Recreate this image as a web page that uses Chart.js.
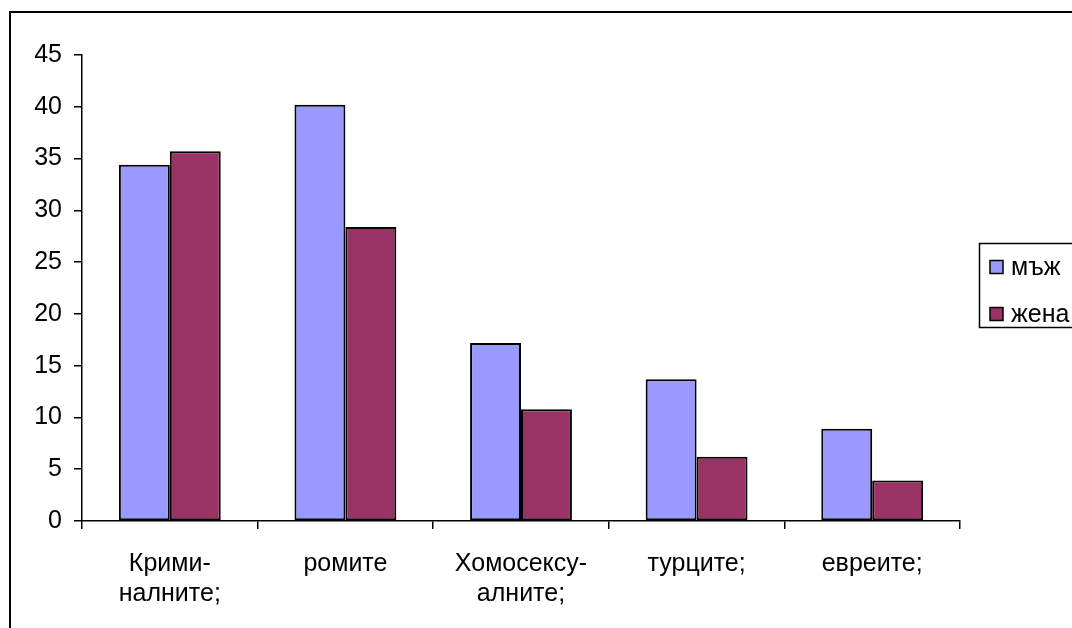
<!DOCTYPE html>
<html>
<head>
<meta charset="utf-8">
<script src="https://cdn.jsdelivr.net/npm/chart.js@4/dist/chart.umd.min.js"></script>
<style>
html,body{margin:0;padding:0;background:#fff;}
#wrap{width:1072px;height:628px;position:relative;}
</style>
</head>
<body>
<div id="wrap"><canvas id="c" width="1072" height="628"></canvas></div>
<script>
const categories = [["Крими-", "налните;"], "ромите", ["Хомосексу-", "алните;"], "турците;", "евреите;"];
const seriesNames = ["мъж", "жена"];
const menValues = [34.4, 40.2, 17.2, 13.7, 8.9];
const womenValues = [35.7, 28.4, 10.8, 6.2, 3.9];
const yTicks = [0, 5, 10, 15, 20, 25, 30, 35, 40, 45];

const FONT = "'Liberation Sans', Arial, sans-serif";
const FS = 25;

const framePlugin = {
  id: 'frame',
  afterDraw(chart) {
    const ctx = chart.ctx;
    ctx.save();
    ctx.strokeStyle = '#000';
    ctx.lineWidth = 2;
    ctx.strokeRect(10, 12, 2000, 2000);
    ctx.lineWidth = 1.5;
    ctx.strokeRect(979.5, 243.5, 200, 84);
    ctx.font = FS + 'px ' + FONT;
    ctx.textBaseline = 'middle';
    const ys = [267, 314];
    chart.data.datasets.forEach((ds, i) => {
      ctx.fillStyle = ds.backgroundColor;
      ctx.fillRect(990, ys[i] - 6.5, 13, 13);
      ctx.lineWidth = 1.5;
      ctx.strokeStyle = '#000';
      ctx.strokeRect(990, ys[i] - 6.5, 13, 13);
      ctx.fillStyle = '#000';
      ctx.fillText(ds.label, 1011, ys[i] + 1);
    });
    ctx.restore();
  }
};

new Chart(document.getElementById('c'), {
  type: 'bar',
  data: {
    labels: categories,
    datasets: [
      { label: seriesNames[0], data: menValues, backgroundColor: '#9999FF', borderColor: '#000', borderWidth: 2, borderSkipped: false },
      { label: seriesNames[1], data: womenValues, backgroundColor: '#993366', borderColor: '#000', borderWidth: 2, borderSkipped: false }
    ]
  },
  options: {
    responsive: false,
    animation: false,
    devicePixelRatio: 1,
    layout: { padding: { left: 0, top: 55, right: 112, bottom: 0 } },
    plugins: { legend: { display: false }, tooltip: { enabled: false } },
    datasets: { bar: { categoryPercentage: 0.58, barPercentage: 1.0 } },
    scales: {
      x: {
        offset: true,
        grid: { offset: true, drawOnChartArea: false, drawTicks: true, tickLength: 8, color: '#000', lineWidth: 1.5 },
        border: { color: '#000', width: 1.5 },
        ticks: { color: '#000', font: { family: FONT, size: FS, lineHeight: 1.2 }, padding: 20, maxRotation: 0, autoSkip: false },
        afterFit(scale) { scale.height = 107; }
      },
      y: {
        min: 0, max: 45,
        afterBuildTicks(scale) { scale.ticks = yTicks.map(v => ({ value: v })); },
        grid: { drawOnChartArea: false, drawTicks: true, tickLength: 8, color: '#000', lineWidth: 1.5 },
        border: { color: '#000', width: 1.5 },
        ticks: { color: '#000', font: { family: FONT, size: FS }, padding: 12 },
        afterFit(scale) { scale.width = 82; }
      }
    }
  },
  plugins: [framePlugin]
});
</script>
</body>
</html>
